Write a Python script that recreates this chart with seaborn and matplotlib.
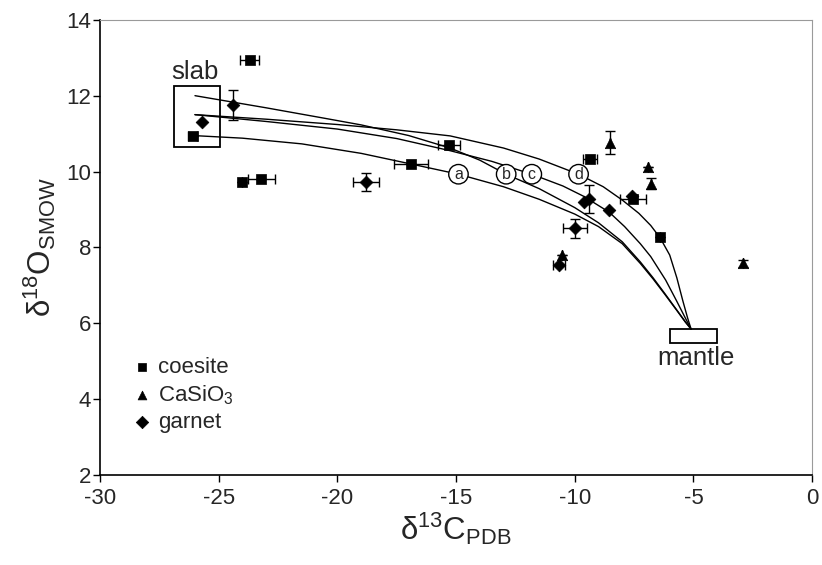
import numpy as np
import pandas as pd
import matplotlib
matplotlib.use("Agg")
import matplotlib.pyplot as plt
from matplotlib.patches import Rectangle
import seaborn as sns

# --- data ---
coesite_x = [-23.7, -26.1, -24.0, -23.2, -16.9, -15.3, -9.35, -7.55, -6.4]
coesite_y = [12.93, 10.95, 9.73, 9.80, 10.19, 10.70, 10.33, 9.28, 8.28]
coesite_xerr = [0.4, 0.2, 0.0, 0.55, 0.7, 0.45, 0.3, 0.55, 0.0]
coesite_yerr = [0.0, 0.0, 0.0, 0.0, 0.0, 0.0, 0.0, 0.0, 0.0]

casio3_x = [-8.5, -6.9, -6.8, -10.55, -2.9]
casio3_y = [10.76, 10.13, 9.68, 7.80, 7.58]
casio3_xerr = [0.0, 0.0, 0.0, 0.0, 0.0]
casio3_yerr = [0.31, 0.0, 0.15, 0.0, 0.1]

garnet_x = [-24.4, -25.7, -18.8, -10.0, -9.63, -9.42, -8.55, -7.6, -10.66]
garnet_y = [11.76, 11.31, 9.73, 8.50, 9.21, 9.27, 8.99, 9.35, 7.54]
garnet_xerr = [0.0, 0.0, 0.54, 0.5, 0.0, 0.0, 0.0, 0.0, 0.25]
garnet_yerr = [0.4, 0.0, 0.23, 0.26, 0.0, 0.37, 0.0, 0.0, 0.0]

# mixing curves slab -> mantle
curve_a_x = [-26.1, -24.0, -21.5, -19.0, -16.9, -14.9, -13.0, -11.5, -10.0, -9.0, -8.0,
             -7.24, -6.7, -6.2, -5.7, -5.35, -5.1]
curve_a_y = [10.95, 10.88, 10.73, 10.48, 10.20, 9.93, 9.60, 9.27, 8.88, 8.55, 8.10,
             7.58, 7.17, 6.76, 6.34, 6.04, 5.85]
curve_b_x = [-26.0, -23.0, -20.5, -19.0, -17.0, -15.25, -14.0, -12.89, -11.5, -10.0, -9.0,
             -8.0, -7.24, -6.7, -6.2, -5.7, -5.35, -5.1]
curve_b_y = [12.00, 11.68, 11.40, 11.23, 10.95, 10.62, 10.30, 9.93, 9.55, 9.05, 8.65,
             8.15, 7.62, 7.20, 6.78, 6.35, 6.05, 5.85]
curve_c_x = [-26.0, -23.0, -20.0, -17.5, -15.25, -13.5, -11.81, -10.5, -9.63, -8.55,
             -7.9, -7.24, -6.8, -6.17, -5.7, -5.35, -5.1]
curve_c_y = [11.50, 11.32, 11.12, 10.87, 10.55, 10.27, 9.93, 9.62, 9.35, 8.93,
             8.55, 8.10, 7.76, 7.14, 6.58, 6.15, 5.85]
curve_d_x = [-26.0, -23.0, -20.0, -17.5, -15.25, -13.0, -11.5, -9.84, -8.8, -8.0, -7.3,
             -6.8, -6.4, -6.0, -5.7, -5.45, -5.25, -5.1]
curve_d_y = [11.50, 11.38, 11.24, 11.10, 10.94, 10.62, 10.33, 9.93, 9.60, 9.25, 8.90,
             8.58, 8.25, 7.80, 7.20, 6.60, 6.15, 5.85]

curve_labels = ["a", "b", "c", "d"]
curve_label_x = [-14.9, -12.89, -11.81, -9.84]
curve_label_y = [9.93, 9.93, 9.93, 9.93]

slab_box = [-26.9, -24.93, 10.64, 12.26]   # x0, x1, y0, y1
mantle_box = [-6.0, -4.0, 5.48, 5.85]

x_ticks = [-30, -25, -20, -15, -10, -5, 0]
y_ticks = [2, 4, 6, 8, 10, 12, 14]

sns.set_theme(style="white")
plt.rcParams["font.family"] = ["Liberation Sans", "DejaVu Sans"]
plt.rcParams["mathtext.default"] = "regular"
plt.rcParams["axes.unicode_minus"] = False

fig = plt.figure(figsize=(8.22, 5.65), dpi=100)
ax = fig.add_axes([0.1217, 0.159, 0.8663, 0.806])

curves = pd.concat([
    pd.DataFrame({"x": curve_a_x, "y": curve_a_y, "curve": "a"}),
    pd.DataFrame({"x": curve_b_x, "y": curve_b_y, "curve": "b"}),
    pd.DataFrame({"x": curve_c_x, "y": curve_c_y, "curve": "c"}),
    pd.DataFrame({"x": curve_d_x, "y": curve_d_y, "curve": "d"}),
])
sns.lineplot(data=curves, x="x", y="y", units="curve", estimator=None, sort=False,
             color="black", linewidth=1.0, ax=ax, zorder=2)

ax.add_patch(Rectangle((slab_box[0], slab_box[2]), slab_box[1] - slab_box[0],
                       slab_box[3] - slab_box[2], fill=False, ec="black", lw=1.3, zorder=2))
ax.add_patch(Rectangle((mantle_box[0], mantle_box[2]), mantle_box[1] - mantle_box[0],
                       mantle_box[3] - mantle_box[2], fill=False, ec="black", lw=1.3, zorder=2))

groups = [
    (coesite_x, coesite_y, coesite_xerr, coesite_yerr, "s", 7.5, "coesite"),
    (casio3_x, casio3_y, casio3_xerr, casio3_yerr, "^", 7.5, "CaSiO$_3$"),
    (garnet_x, garnet_y, garnet_xerr, garnet_yerr, "D", 6.5, "garnet"),
]
for gx, gy, gxe, gye, mk, ms, lab in groups:
    ax.errorbar(gx, gy, xerr=gxe, yerr=gye, fmt="none", ecolor="black",
                elinewidth=1, capsize=3.5, capthick=1, zorder=3)
    sns.scatterplot(x=gx, y=gy, marker=mk, s=ms ** 2, color="black",
                    edgecolor="black", linewidth=0.5, ax=ax, zorder=4, label=lab)

for lab, lx, ly in zip(curve_labels, curve_label_x, curve_label_y):
    ax.text(lx, ly, lab, ha="center", va="center", fontsize=11.5, zorder=5,
            bbox=dict(boxstyle="circle,pad=0.14", fc="white", ec="black", lw=1))

ax.text(-26.0, 12.62, "slab", ha="center", va="center", fontsize=18.5)
ax.text(-4.9, 5.4, "mantle", ha="center", va="top", fontsize=18.5)

leg = ax.legend(loc="lower left", bbox_to_anchor=(0.0, 0.025), frameon=False,
                fontsize=16, handletextpad=0.2, labelspacing=0.22,
                handlelength=1.0, borderaxespad=1.0)
for h in leg.legend_handles:
    h.set_sizes([40])

ax.set_xlim(-30, 0)
ax.set_ylim(2, 14)
ax.set_xticks(x_ticks)
ax.set_yticks(y_ticks)
ax.tick_params(axis="both", which="major", labelsize=16, direction="out",
               length=5, width=1, color="black", bottom=True, left=True)
ax.tick_params(axis="y", pad=1.5)
ax.tick_params(axis="x", pad=4.5)
for side in ["left", "bottom"]:
    ax.spines[side].set_color("black")
    ax.spines[side].set_linewidth(1.2)
for side in ["top", "right"]:
    ax.spines[side].set_color("#9a9a9a")
    ax.spines[side].set_linewidth(0.8)

ax.set_xlabel("δ$^{13}$C$_{PDB}$", fontsize=22.5, labelpad=1)
ax.set_ylabel("δ$^{18}$O$_{SMOW}$", fontsize=22.5, labelpad=6)

plt.savefig("out.png", dpi=100)
plt.close()
